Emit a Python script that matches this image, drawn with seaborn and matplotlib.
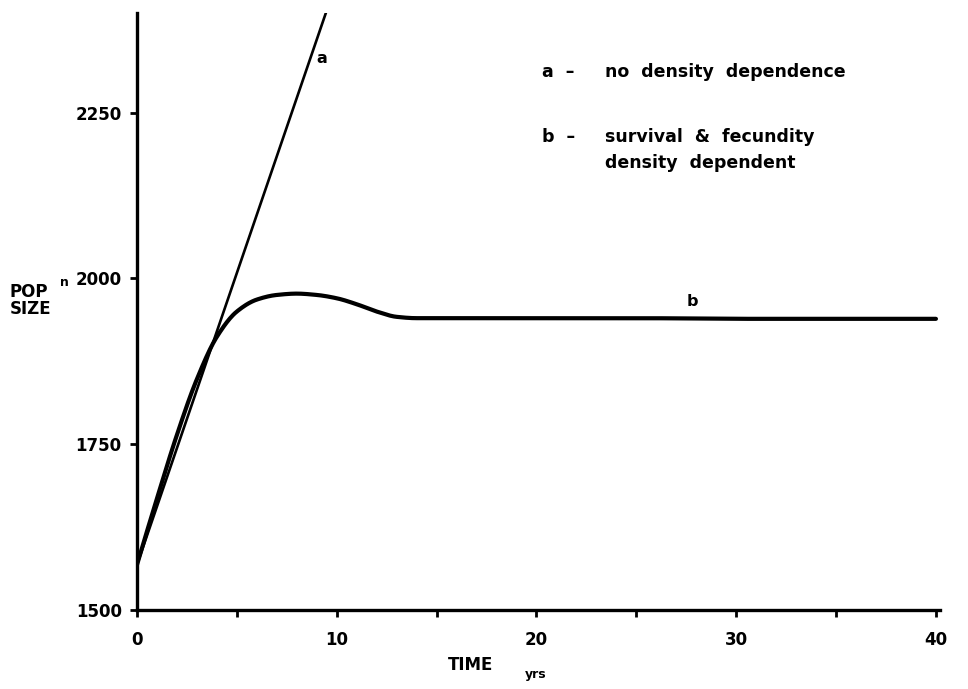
import numpy as np
import pandas as pd
import matplotlib
matplotlib.use("Agg")
import matplotlib.pyplot as plt
from matplotlib.ticker import MultipleLocator
from scipy.interpolate import PchipInterpolator
import seaborn as sns

# Population size over time (years)
years_a = [0, 1, 2, 3, 4, 5, 6, 7, 8, 9, 10]
pop_a = [1568, 1656, 1744, 1832, 1920, 2008, 2096, 2184, 2272, 2360, 2448]

years_b = [0, 1, 2, 3, 4, 5, 6, 7, 8, 9, 10, 11, 12, 13, 14, 16, 20, 25, 30, 35, 40]
pop_b = [1568, 1668, 1764, 1848, 1912, 1950, 1968, 1975, 1977, 1975, 1970, 1961,
         1950, 1942, 1940, 1940, 1940, 1940, 1939, 1939, 1939]

x_ticks = [0, 10, 20, 30, 40]
y_ticks = [1500, 1750, 2000, 2250]

sns.set_style("ticks")
plt.rcParams["font.family"] = ["DejaVu Sans"]
plt.rcParams["font.weight"] = "bold"
for key in ("text.color", "axes.labelcolor", "xtick.color", "ytick.color"):
    plt.rcParams[key] = "black"

fig = plt.figure(figsize=(9.68, 6.89), dpi=100)
ax = fig.add_axes([0.1415, 0.1147, 0.8295, 0.8663])

df_a = pd.DataFrame({"year": years_a, "pop": pop_a})

# smooth the density-dependent curve for drawing
xs = np.linspace(0, 40, 800)
smooth_b = pd.DataFrame({"year": xs, "pop": PchipInterpolator(years_b, pop_b)(xs)})

sns.lineplot(data=df_a, x="year", y="pop", ax=ax, color="black", lw=1.9)
sns.lineplot(data=smooth_b, x="year", y="pop", ax=ax, color="black", lw=3.0,
             solid_capstyle="round")

ax.set_xlim(0, 40.2)
ax.set_ylim(1500, 2400)
ax.set_xticks(x_ticks)
ax.xaxis.set_minor_locator(MultipleLocator(5))
ax.set_yticks(y_ticks)
ax.set_xticklabels([str(v) for v in x_ticks], fontsize=12, fontweight="bold")
ax.set_yticklabels([str(v) for v in y_ticks], fontsize=12, fontweight="bold")
ax.tick_params(axis="both", which="both", direction="out", width=2, length=5,
               color="black", pad=6)
ax.tick_params(axis="x", which="major", pad=10)
ax.set_xlabel("")
ax.set_ylabel("")
sns.despine(ax=ax)
for s in ("left", "bottom"):
    ax.spines[s].set_linewidth(2.4)
    ax.spines[s].set_color("black")

# axis titles
fig.text(0.486, 0.035, "TIME", fontsize=12, fontweight="bold", ha="center", va="center")
fig.text(0.553, 0.021, "yrs", fontsize=9, fontweight="bold", ha="center", va="center")
fig.text(0.010, 0.576, "POP", fontsize=12, fontweight="bold", ha="left", va="center")
fig.text(0.062, 0.590, "n", fontsize=9, fontweight="bold", ha="left", va="center")
fig.text(0.010, 0.551, "SIZE", fontsize=12, fontweight="bold", ha="left", va="center")

# curve labels
ax.text(9.25, 2332, "a", fontsize=11.5, fontweight="bold", ha="center", va="center")
ax.text(27.8, 1965, "b", fontsize=11.5, fontweight="bold", ha="center", va="center")

# key
kw = dict(fontsize=12.5, fontweight="bold", va="center", transform=ax.transAxes)
ax.text(0.505, 0.901, "a  \u2013", **kw)
ax.text(0.583, 0.901, "no  density  dependence", **kw)
ax.text(0.505, 0.792, "b  \u2013", **kw)
ax.text(0.583, 0.792, "survival  &  fecundity", **kw)
ax.text(0.583, 0.749, "density  dependent", **kw)

fig.savefig("out.png", dpi=100)
